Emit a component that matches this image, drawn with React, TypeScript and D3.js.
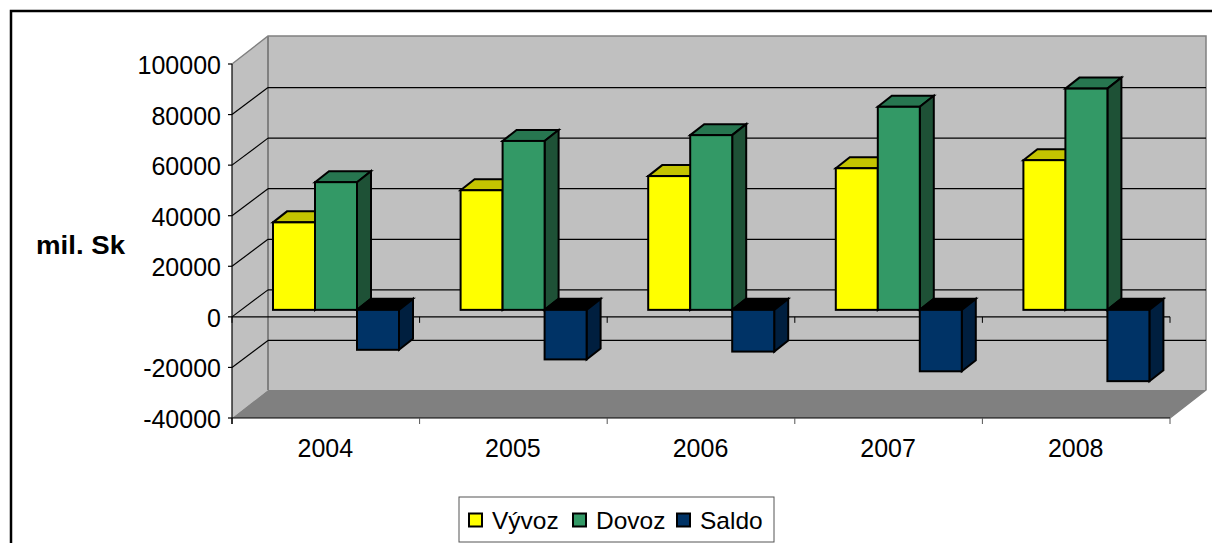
import React from "react";
import * as d3 from "d3";

const years = ["2004", "2005", "2006", "2007", "2008"];
const vyvoz = [34600, 47300, 52900, 56000, 59200];
const dovoz = [50500, 66800, 69100, 80300, 87500];
const saldo = [-15800, -19600, -16500, -24300, -28200];
const yTicks = [100000, 80000, 60000, 40000, 20000, 0, -20000, -40000];
const seriesNames = ["Vývoz", "Dovoz", "Saldo"];
const seriesFill = ["#ffff00", "#339966", "#003366"];
const seriesTop = ["#c4c400", "#277650", "#000000"];
const seriesSide = ["#8a8a00", "#1e5136", "#001f3f"];

const FONT = "'Liberation Sans', Arial, sans-serif";
const L = 232, R = 1170, DX = 36, DY = -28, GRID_DY = -27;
const BDX = 14, BDY = -11, BASE_SHIFT = -7;

export default function App() {
  const y = d3.scaleLinear().domain([-40000, 100000]).range([418, 64]);
  const x = d3.scaleBand<string>().domain(years).range([L, R]).paddingInner(0).paddingOuter(0);
  const step = x.step();
  const inner = d3.scaleBand<number>().domain([0, 1, 2]).range([41, 41 + 126]);
  const poly = (pts: number[][]) => pts.map((p) => p.join(",")).join(" ");
  const y0 = y(0) + BASE_SHIFT;
  const bottom = y(-40000), top = y(100000);
  const rows = [vyvoz, dovoz, saldo];
  const sv = (v: number) => y(v) + BASE_SHIFT;

  const bar = (s: number, i: number) => {
    const v = rows[s][i];
    const x0 = x(years[i])! + inner(s)!;
    const x1 = x0 + inner.bandwidth();
    const yTop = v >= 0 ? sv(v) : y0;
    const yBot = v >= 0 ? y0 : sv(v);
    return (
      <g key={`${s}-${i}`} stroke="#000" strokeWidth={2} strokeLinejoin="miter">
        <polygon points={poly([[x0, yTop], [x0 + BDX, yTop + BDY], [x1 + BDX, yTop + BDY], [x1, yTop]])} fill={seriesTop[s]} />
        <polygon points={poly([[x1, yTop], [x1 + BDX, yTop + BDY], [x1 + BDX, yBot + BDY], [x1, yBot]])} fill={seriesSide[s]} />
        <rect x={x0} y={yTop} width={x1 - x0} height={yBot - yTop} fill={seriesFill[s]} />
      </g>
    );
  };

  const legendX = [469, 573, 677];
  const legendTextX = [492, 596, 700];

  return (
    <svg width={1212} height={543} style={{ position: "absolute", left: 0, top: 0, display: "block" }} fontFamily={FONT}>
      <rect width={1212} height={543} fill="#fff" />
      <path d="M11,543 V11 H1212" fill="none" stroke="#000" strokeWidth={2.5} />

      <polygon points={poly([[L, top], [L + DX, top + DY], [L + DX, bottom + DY], [L, bottom]])} fill="#c0c0c0" />
      <rect x={L + DX} y={top + DY} width={R - L} height={bottom - top} fill="#c0c0c0" />
      <polygon points={poly([[L, bottom], [L + DX, bottom + DY], [R + DX, bottom + DY], [R, bottom]])} fill="#808080" />
      <path d={`M${L},${top} L${L + DX},${top + DY} H${R + DX} V${bottom + DY} L${R},${bottom}`} fill="none" stroke="#808080" strokeWidth={1.5} />
      <line x1={L + DX} x2={L + DX} y1={top + DY} y2={bottom + DY} stroke="#808080" strokeWidth={2} />

      {yTicks.filter((t) => t !== 100000 && t !== -40000).map((t) => (
        <g key={t} stroke="#000" strokeWidth={1.2}>
          <line x1={L} y1={y(t)} x2={L + DX} y2={y(t) + GRID_DY} />
          <line x1={L + DX} y1={y(t) + GRID_DY} x2={R + DX} y2={y(t) + GRID_DY} />
        </g>
      ))}

      <line x1={L} x2={R} y1={y(0)} y2={y(0)} stroke="#000" strokeWidth={1.2} />
      {d3.range(0, 6).map((i) => (
        <line key={i} x1={L + i * step} x2={L + i * step} y1={y(0)} y2={y(0) + 6} stroke="#000" strokeWidth={1} />
      ))}

      {years.map((_, i) => [0, 1, 2].map((s) => bar(s, i)))}

      <line x1={L} x2={L} y1={top} y2={bottom + 6} stroke="#000" strokeWidth={1.2} />
      <line x1={L} x2={R} y1={bottom} y2={bottom} stroke="#000" strokeWidth={1.2} />
      {d3.range(0, 6).map((i) => (
        <line key={i} x1={L + i * step} x2={L + i * step} y1={bottom} y2={bottom + 6} stroke={i === 0 ? "#000" : "#555"} strokeWidth={1} />
      ))}
      {yTicks.map((t) => (
        <g key={t}>
          <line x1={L - 4} x2={L} y1={y(t)} y2={y(t)} stroke="#000" strokeWidth={1.2} />
          <text x={221} y={y(t) + 10} textAnchor="end" fontSize={25} fill="#000">{t}</text>
        </g>
      ))}
      {years.map((yr) => (
        <text key={yr} x={x(yr)! + step / 2 - 0.5} y={457} textAnchor="middle" fontSize={25} fill="#000">{yr}</text>
      ))}
      <text x={36} y={254} fontSize={26} fontWeight="bold" fill="#000" textLength={89} lengthAdjust="spacingAndGlyphs">mil. Sk</text>

      <rect x={459} y={497} width={315} height={45} fill="#fff" stroke="#555" strokeWidth={1} />
      {seriesNames.map((n, i) => (
        <g key={n}>
          <rect x={legendX[i]} y={513.5} width={13} height={13} fill={seriesFill[i]} stroke="#000" strokeWidth={2} />
          <text x={legendTextX[i]} y={528.5} fontSize={24.5} fill="#000">{n}</text>
        </g>
      ))}
    </svg>
  );
}
